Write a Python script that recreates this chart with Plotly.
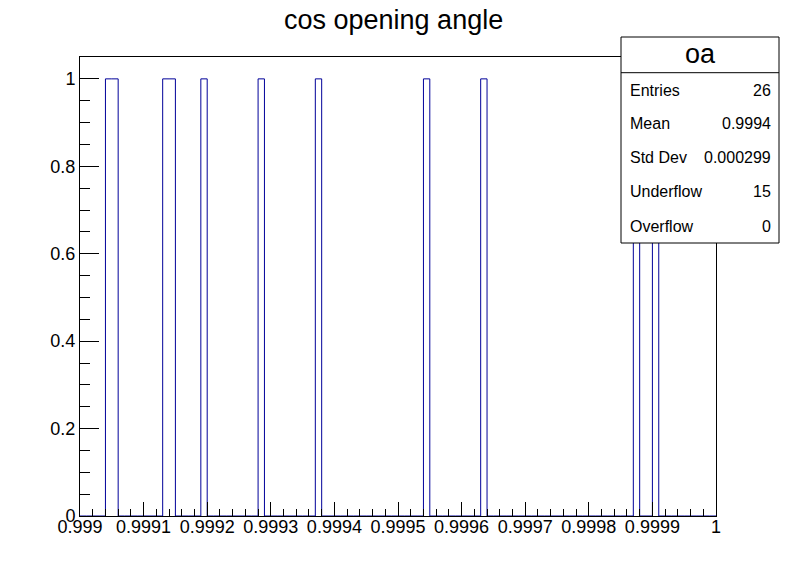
import numpy as np
import plotly.graph_objects as go

# ---- data ----
title_text = "cos opening angle"
x_range = [0.999, 1.0]
n_bins = 100
# in-range entries (one per filled bin)
entries = [0.999045, 0.999055, 0.999135, 0.999145, 0.999195, 0.999285,
           0.999375, 0.999545, 0.999635, 0.999875, 0.999905]
x_tick_vals = [0.999, 0.9991, 0.9992, 0.9993, 0.9994, 0.9995, 0.9996, 0.9997, 0.9998, 0.9999, 1.0]
x_tick_text = ["0.999", "0.9991", "0.9992", "0.9993", "0.9994", "0.9995", "0.9996", "0.9997", "0.9998", "0.9999", "1"]
y_tick_vals = [0, 0.2, 0.4, 0.6, 0.8, 1.0]
y_tick_text = ["0", "0.2", "0.4", "0.6", "0.8", "1"]
y_range = [0, 1.05]
stats_name = "oa"
stats_labels = ["Entries", "Mean", "Std Dev", "Underflow", "Overflow"]
stats_values = ["26", "0.9994", "0.000299", "15", "0"]

# ---- histogram ----
counts, edges = np.histogram(entries, bins=n_bins, range=tuple(x_range))
step_x = list(edges)
step_y = list(counts) + [counts[-1]]

FONT = "Liberation Sans, Arial, Helvetica, sans-serif"
LINE_COLOR = "#000099"

fig = go.Figure()
fig.add_trace(go.Scatter(
    x=step_x, y=step_y, mode="lines", line=dict(color=LINE_COLOR, width=1, shape="hv"),
    hoverinfo="skip", showlegend=False,
))

fig.update_layout(
    width=796, height=572,
    margin=dict(l=80, r=80, t=57, b=56),
    paper_bgcolor="white", plot_bgcolor="white",
    font=dict(family=FONT, color="black", size=18),
    showlegend=False,
)
fig.update_xaxes(
    range=x_range, showgrid=False, zeroline=False,
    showline=True, linecolor="black", linewidth=1, mirror=True,
    ticks="inside", ticklen=14, tickcolor="black", tickwidth=1,
    tickvals=x_tick_vals, ticktext=x_tick_text,
    tickfont=dict(size=18, family=FONT), ticklabelstandoff=-6,
    minor=dict(ticks="inside", ticklen=7, dtick=0.00002, tick0=0.999, tickcolor="black", showgrid=False),
)
fig.update_yaxes(
    range=y_range, showgrid=False, zeroline=False,
    showline=True, linecolor="black", linewidth=1, mirror=True,
    ticks="inside", ticklen=19, tickcolor="black", tickwidth=1,
    tickvals=y_tick_vals, ticktext=y_tick_text,
    tickfont=dict(size=18, family=FONT),
    minor=dict(ticks="inside", ticklen=10, dtick=0.05, tick0=0, tickcolor="black", showgrid=False),
)

# title
fig.add_annotation(text=title_text, x=0.4937, y=1.0806, xref="paper", yref="paper",
                   showarrow=False, xanchor="center", yanchor="middle",
                   font=dict(size=27, family=FONT, color="black"))

# stats box
def px_x(p):
    return (p - 80) / 636.0

def px_y(p):
    return (516 - p) / 459.0

box_l, box_r, box_t, box_sep, box_b = 621, 779, 37, 72.7, 243
fig.add_shape(type="rect", xref="paper", yref="paper",
              x0=px_x(box_l), x1=px_x(box_r), y0=px_y(box_b), y1=px_y(box_t),
              line=dict(color="black", width=1), fillcolor="white", layer="above")
fig.add_shape(type="line", xref="paper", yref="paper",
              x0=px_x(box_l), x1=px_x(box_r), y0=px_y(box_sep), y1=px_y(box_sep),
              line=dict(color="black", width=1), layer="above")
fig.add_annotation(text=stats_name, x=px_x(700), y=px_y(54), xref="paper", yref="paper",
                   showarrow=False, xanchor="center", yanchor="middle",
                   font=dict(size=27, family=FONT, color="black"))
row_y = [90.7, 123.7, 157.7, 192, 226.5]
for lab, val, ry in zip(stats_labels, stats_values, row_y):
    fig.add_annotation(text=lab, x=px_x(628), y=px_y(ry), xref="paper", yref="paper",
                       showarrow=False, xanchor="left", yanchor="middle",
                       font=dict(size=16, family=FONT, color="black"))
    fig.add_annotation(text=val, x=px_x(773), y=px_y(ry), xref="paper", yref="paper",
                       showarrow=False, xanchor="right", yanchor="middle",
                       font=dict(size=16, family=FONT, color="black"))

fig.write_html("out.html")
